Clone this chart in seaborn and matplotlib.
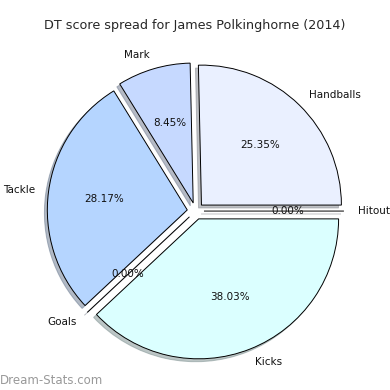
import matplotlib
matplotlib.use("Agg")
import matplotlib.pyplot as plt
import seaborn as sns

categories = ["Handballs", "Mark", "Tackle", "Goals", "Kicks", "Hitout"]
values = [25.35, 8.45, 28.17, 0.00, 38.03, 0.00]
colors = ["#EAF0FF", "#C6D9FF", "#B5D5FF", "#DCE8FF", "#DBFFFF", "#EEF2FF"]
title = "DT score spread for James Polkinghorne (2014)"
watermark = "Dream-Stats.com"

sns.set_style("white")
plt.rcParams['font.family'] = ['DejaVu Sans']

fig = plt.figure(figsize=(3.9, 3.9), dpi=100)
ax = fig.add_axes([0.053, 0.0103, 0.897, 0.897])
wedges, texts, autotexts = ax.pie(
    values, labels=categories, colors=colors, explode=[0.06] * len(values),
    autopct="%1.2f%%", startangle=0,
    shadow=dict(ox=-0.015, oy=-0.015, shade=0.45),
    wedgeprops=dict(edgecolor="black", linewidth=0.7),
    textprops=dict(fontsize=7.5, color="#111111"))
ax.set_aspect("equal")
fig.suptitle(title, fontsize=9.2, y=0.95)
fig.text(0.0, 0.025, watermark, fontsize=8.5, color="#999999", ha="left", va="center",
         fontweight="medium")
fig.savefig("out.png", dpi=100)
